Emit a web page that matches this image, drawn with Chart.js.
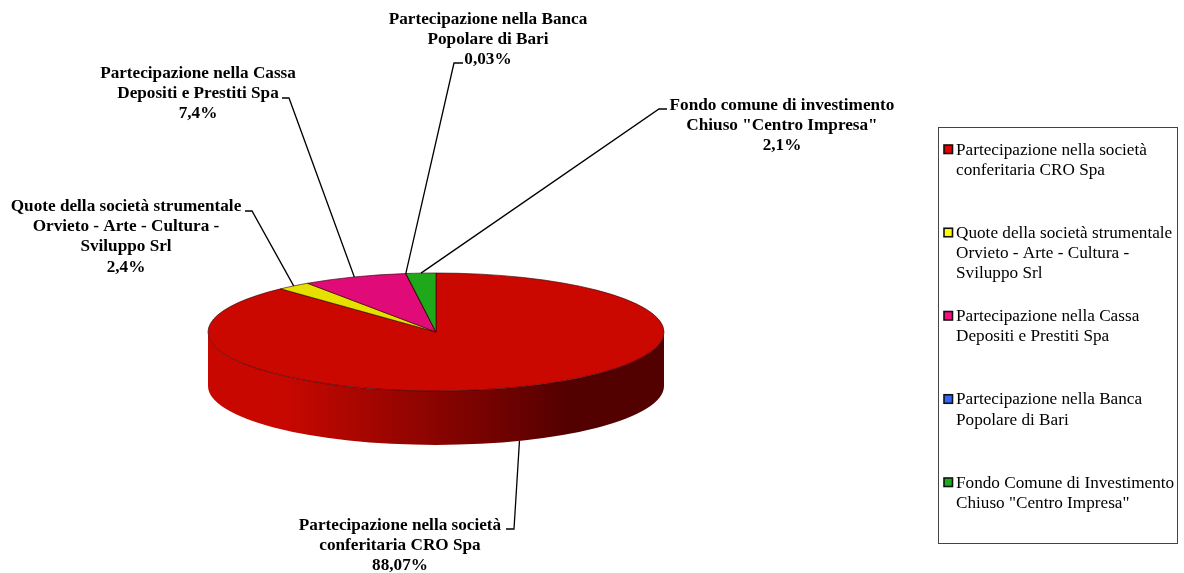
<!DOCTYPE html>
<html><head><meta charset="utf-8">
<style>html,body{margin:0;padding:0;background:#fff}canvas{display:block}</style>
<script src="https://cdn.jsdelivr.net/npm/chart.js@4"></script>
</head><body><canvas id="c" width="1184" height="573"></canvas>
<script>
const values = [88.07, 2.4, 7.4, 0.03, 2.1];
const legendLabels = [
  ['Partecipazione nella società','conferitaria CRO Spa'],
  ['Quote della società strumentale','Orvieto - Arte - Cultura -','Sviluppo Srl'],
  ['Partecipazione nella Cassa','Depositi e Prestiti Spa'],
  ['Partecipazione nella Banca','Popolare di Bari'],
  ['Fondo Comune di Investimento','Chiuso "Centro Impresa"']
];
const dataLabels = [
  ['Partecipazione nella società','conferitaria CRO Spa'],
  ['Quote della società strumentale','Orvieto - Arte - Cultura -','Sviluppo Srl'],
  ['Partecipazione nella Cassa','Depositi e Prestiti Spa'],
  ['Partecipazione nella Banca','Popolare di Bari'],
  ['Fondo comune di investimento','Chiuso "Centro Impresa"']
];
const sliceColors = ['#cb0800','#e6e000','#e00a78','#2a52d0','#1fa81a'];
const swatchColors = ['#e60000','#ffff00','#ff0a80','#3366ff','#1aae1a'];
// label layout: centre x, first-line centre y, elbow x, elbow y, tail x
const labelPos = [
  {x:400,y:525.5,ex:514,ey:529,tx:506},
  {x:126,y:206.5,ex:252,ey:211,tx:245},
  {x:198,y:73.5, ex:289,ey:98, tx:282},
  {x:488,y:19.5, ex:454,ey:63, tx:463},
  {x:782,y:105.5,ex:659,ey:109,tx:667}
];
const SQUASH = 59/228, DEPTH = 54;
const SERIF = '"Liberation Serif","Times New Roman",serif';

const pie3d = {
  id:'pie3d',
  beforeDatasetsDraw(chart){
    const a = chart.getDatasetMeta(0).data[0], ctx = chart.ctx;
    const cx=a.x, cy=a.y, r=a.outerRadius, ry=r*SQUASH;
    ctx.save();
    const g = ctx.createLinearGradient(cx-r,0,cx+r,0);
    g.addColorStop(0,'#c80800'); g.addColorStop(0.16,'#c80800');
    g.addColorStop(0.8,'#520000'); g.addColorStop(1,'#520000');
    ctx.beginPath();
    ctx.ellipse(cx,cy,r,ry,0,Math.PI,0,true);
    ctx.lineTo(cx+r,cy+DEPTH);
    ctx.ellipse(cx,cy+DEPTH,r,ry,0,0,Math.PI,false);
    ctx.closePath();
    ctx.fillStyle=g; ctx.fill();
    ctx.restore();
    ctx.save();
    ctx.translate(cx,cy); ctx.scale(1,SQUASH); ctx.translate(-cx,-cy);
  },
  afterDatasetsDraw(chart){
    const ctx = chart.ctx; ctx.restore();
    const arcs = chart.getDatasetMeta(0).data;
    ctx.save();
    ctx.strokeStyle='#000'; ctx.lineWidth=1.3;
    arcs.forEach((a,i)=>{
      const mid=(a.startAngle+a.endAngle)/2, p=labelPos[i];
      const sy=Math.sin(mid);
      let ax=a.x+a.outerRadius*Math.cos(mid), ay=a.y+a.outerRadius*SQUASH*sy;
      if(sy>0.3) ay+=DEPTH;
      ctx.beginPath(); ctx.moveTo(ax,ay); ctx.lineTo(p.ex,p.ey); ctx.lineTo(p.tx,p.ey); ctx.stroke();
      ctx.font='bold 17.2px '+SERIF; ctx.fillStyle='#000';
      ctx.textAlign='center'; ctx.textBaseline='middle';
      const lines=dataLabels[i].concat(String(values[i]).replace('.',',')+'%');
      lines.forEach((t,k)=>ctx.fillText(t,p.x,p.y+k*20.2));
    });
    // legend
    const L=938.5,T=127.5,W=239,H=416;
    ctx.strokeStyle='#444'; ctx.lineWidth=1; ctx.strokeRect(L,T,W,H);
    ctx.font='17.2px '+SERIF; ctx.textAlign='left'; ctx.textBaseline='middle';
    legendLabels.forEach((ls,i)=>{
      const y=149+i*83.25;
      ctx.fillStyle=swatchColors[i]; ctx.fillRect(944,y-4,8.5,8.5);
      ctx.lineWidth=1.6; ctx.strokeStyle='#111'; ctx.strokeRect(944,y-4,8.5,8.5);
      ctx.fillStyle='#000';
      ls.forEach((t,k)=>ctx.fillText(t,956,y+1+k*20.3));
    });
    ctx.restore();
  }
};

new Chart(document.getElementById('c'),{
  type:'pie',
  data:{labels:legendLabels.map(l=>l.join(' ')),datasets:[{data:values,backgroundColor:sliceColors,borderColor:'#300000',borderWidth:1}]},
  options:{responsive:false,animation:false,
    layout:{padding:{left:207.5,right:519.5,top:103.5,bottom:12.5}},
    plugins:{legend:{display:false},tooltip:{enabled:false}}},
  plugins:[pie3d]
});
</script></body></html>
